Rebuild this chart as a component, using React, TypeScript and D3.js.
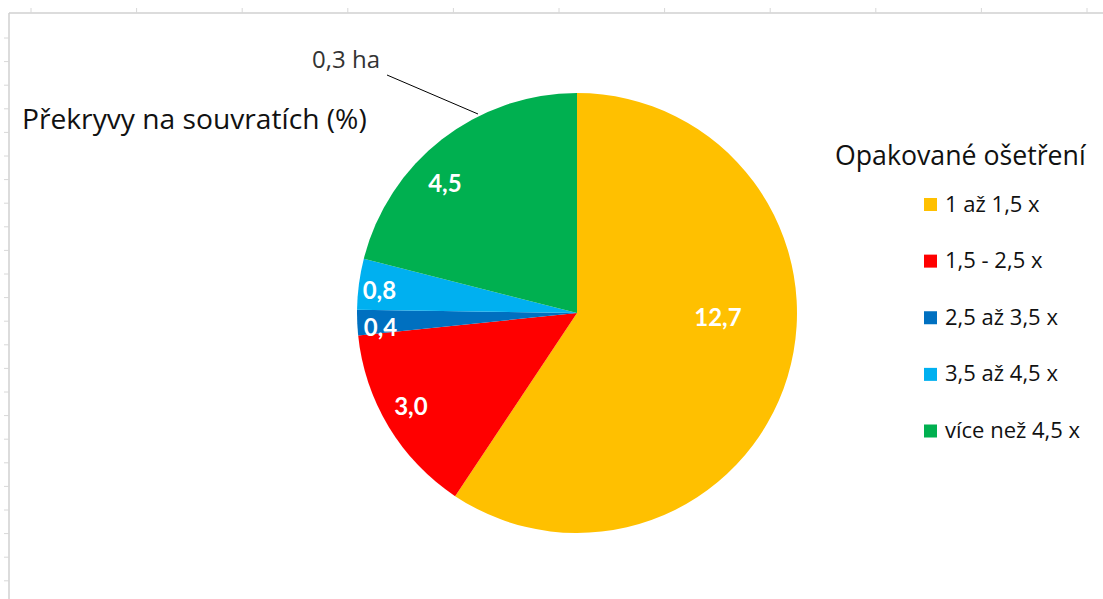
import React from "react";
import * as d3 from "d3";

const categories = ["1 až 1,5 x", "1,5 - 2,5 x", "2,5 až 3,5 x", "3,5 až 4,5 x", "více než 4,5 x"];
const values = [12.7, 3.0, 0.4, 0.8, 4.5];
const labels = ["12,7", "3,0", "0,4", "0,8", "4,5"];
const colors = ["#FFC000", "#FF0000", "#0070C0", "#00B0F0", "#00B050"];
const chartTitle = "Překryvy na souvratích (%)";
const legendTitle = "Opakované ošetření";
const annotation = "0,3 ha";

// label placement (radius, angle offset in degrees) per slice - styling only
const labelRadius = [141, 190, 197, 199, 186];
const labelAngleShift = [-15.6, 2.1, -1.3, -0.9, -7.4];

const FONT = "'Open Sans', Lato, sans-serif";
const LFONT = "Lato, 'Open Sans', sans-serif";

export default function App() {
  const W = 1103, H = 599;
  const cx = 577, cy = 313, R = 220;
  const pie = d3.pie<number>().sort(null).value((d) => d)(values);
  const arc = d3.arc<d3.PieArcDatum<number>>().innerRadius(0).outerRadius(R);

  const colTicks = d3.range(11).map((i) => 31 + i * 105.6);
  const rowTicks = d3.range(24).map((i) => 38 + i * 23.6).filter((y) => y < H);

  const legendY = d3.scalePoint<string>().domain(categories).range([204.5, 431]);

  return (
    <svg width={W} height={H} style={{ position: "absolute", left: 0, top: 0, background: "#fff" }}>
      {/* sheet frame */}
      <line x1={9} y1={13} x2={W} y2={13} stroke="#d0d0d0" strokeWidth={1.5} />
      <line x1={9} y1={13} x2={9} y2={H} stroke="#d0d0d0" strokeWidth={1.5} />
      {colTicks.map((x, i) => (
        <line key={"c" + i} x1={x} y1={8} x2={x} y2={13} stroke="#d8d8d8" />
      ))}
      {rowTicks.map((y, i) => (
        <line key={"r" + i} x1={4} y1={y} x2={9} y2={y} stroke="#d8d8d8" />
      ))}

      <g transform={`translate(${cx},${cy})`}>
        {pie.map((d, i) => (
          <path key={i} d={arc(d) || ""} fill={colors[i]} />
        ))}
        {pie.map((d, i) => {
          const a = (d.startAngle + d.endAngle) / 2 + (labelAngleShift[i] * Math.PI) / 180;
          const r = labelRadius[i];
          return (
            <text
              key={"l" + i}
              x={Math.sin(a) * r}
              y={-Math.cos(a) * r}
              textAnchor="middle"
              dominantBaseline="central"
              fill="#fff"
              fontWeight="bold"
              fontSize={24}
              fontFamily={LFONT}
            >
              {labels[i]}
            </text>
          );
        })}
      </g>

      {/* annotation */}
      <text x={346} y={68} textAnchor="middle" fontSize={24} fontFamily={FONT} fill="#333">
        {annotation}
      </text>
      <line x1={387} y1={75} x2={478} y2={114} stroke="#000" strokeWidth={1} />

      <text x={22} y={129} fontSize={28.2} fontFamily={FONT} fill="#111">
        {chartTitle}
      </text>

      <text x={835} y={165} fontSize={26.7} fontFamily={FONT} fill="#111">
        {legendTitle}
      </text>
      {categories.map((c, i) => (
        <g key={"lg" + i} transform={`translate(0,${legendY(c)})`}>
          <rect x={924} y={-6.5} width={13} height={13} fill={colors[i]} />
          <text x={945} y={7} fontSize={22} fontFamily={FONT} fill="#111">
            {c}
          </text>
        </g>
      ))}
    </svg>
  );
}
